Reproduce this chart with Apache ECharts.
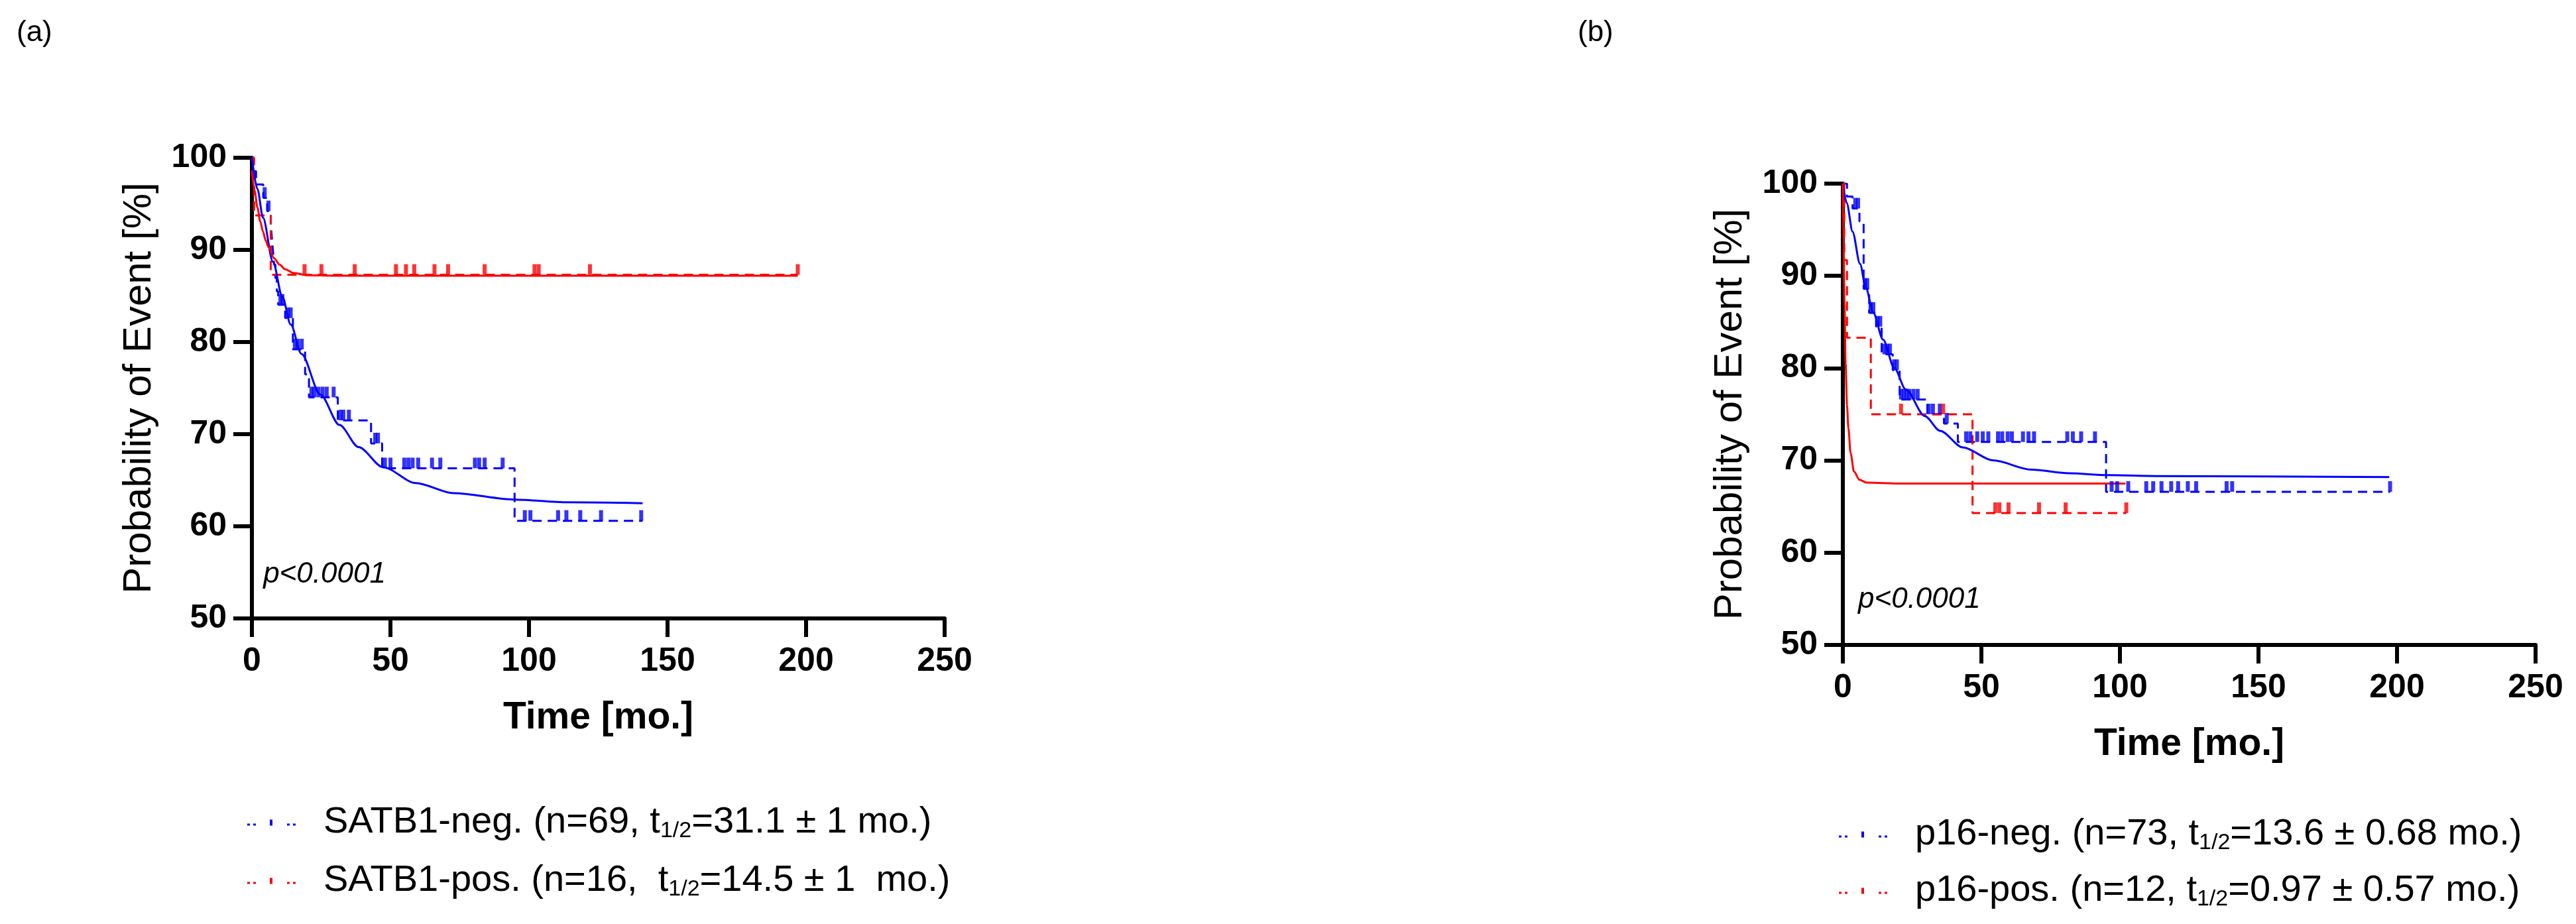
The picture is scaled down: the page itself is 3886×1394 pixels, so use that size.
<!DOCTYPE html>
<html>
<head>
<meta charset="utf-8">
<title>Kaplan-Meier SATB1 / p16</title>
<script src="https://cdn.jsdelivr.net/npm/echarts@6/dist/echarts.min.js"></script>
<style>
html, body { margin: 0; padding: 0; background: #fff; }
#main { width: 3886px; height: 1394px; }
</style>
</head>
<body>
<div id="main"></div>
<script>
// (a) SATB1 - Kaplan-Meier steps, censor marks and fitted curves
var satbNegKmX = [0, 0.5, 1.5, 4.1, 5.5, 6.8, 7.2, 7.6, 8.0, 8.5, 9.0, 9.5, 12.0, 14.8, 19.2, 20.6, 31.0, 43.0, 47.0, 94.8, 141];
var satbNegKmY = [100, 98.55, 97.1, 95.65, 94.2, 92.75, 91.3, 89.9, 88.4, 86.95, 85.5, 84.05, 82.6, 79.2, 76.5, 74.0, 71.5, 69.0, 66.3, 60.6, 60.6];
var satbNegCensX = [4.6, 6.0, 10.3, 11.0, 13.0, 14.0, 15.5, 16.5, 18.0, 21.5, 22.5, 24.0, 25.5, 27.0, 29.5, 32.0, 33.0, 35.0, 44.5, 45.5,
    48.0, 50.0, 55.0, 56.5, 58.0, 60.0, 65.0, 68.0, 80.5, 82.0, 84.0, 90.5, 98.5, 100.5, 110.5, 113.5, 118.5, 126.0, 140.5];
var satbNegCensY = [95.65, 94.2, 84.05, 84.05, 82.6, 82.6, 79.2, 79.2, 79.2, 74.0, 74.0, 74.0, 74.0, 74.0, 74.0, 71.5, 71.5, 71.5, 69.0, 69.0,
    66.3, 66.3, 66.3, 66.3, 66.3, 66.3, 66.3, 66.3, 66.3, 66.3, 66.3, 66.3, 60.6, 60.6, 60.6, 60.6, 60.6, 60.6, 60.6];
var satbNegFitX = [0, 2, 4, 7.6, 11, 14, 17.9, 24.7, 31.6, 38.5, 47.4, 59.1, 72.8, 94.8, 114, 141];
var satbNegFitY = [100, 96.6, 93.5, 88.7, 84.9, 81.9, 78.7, 74.3, 71.0, 68.6, 66.4, 64.7, 63.6, 62.9, 62.6, 62.5];

var satbPosKmX = [0, 0.8, 6.8, 197];
var satbPosKmY = [100, 93.75, 87.3, 87.3];
var satbPosCensX = [19.0, 25.1, 37.1, 52.0, 55.6, 58.6, 65.9, 70.8, 84.0, 102.0, 103.5, 122.0, 197.0];
var satbPosCensY = [87.3, 87.3, 87.3, 87.3, 87.3, 87.3, 87.3, 87.3, 87.3, 87.3, 87.3, 87.3, 87.3];
var satbPosFitX = [0, 1, 2, 3, 4, 5, 6, 8, 10, 12, 15, 20, 30, 197];
var satbPosFitY = [98.6, 96.4, 94.6, 93.1, 92.0, 91.0, 90.3, 89.1, 88.4, 87.9, 87.5, 87.25, 87.2, 87.2];

// (b) p16
var p16NegKmX = [0, 1.5, 3.5, 6.0, 7.5, 9.5, 12.0, 14.0, 18.0, 20.5, 30.5, 36.5, 41.5, 95.0, 197.5];
var p16NegKmY = [100, 98.6, 97.3, 95.9, 88.6, 86.0, 84.5, 81.5, 79.8, 76.6, 75.0, 74.0, 72.0, 66.6, 66.6];
var p16NegCensX = [4.5, 5.5, 8.0, 8.8, 10.0, 11.0, 12.5, 13.5, 15.0, 16.0, 17.0, 18.5, 19.5, 21.0, 22.0, 23.0, 24.0, 25.5, 27.0,
    31.0, 32.5, 35.0, 37.5, 44.5, 46.0, 48.5, 50.5, 52.5, 56.0, 57.5, 59.5, 61.0, 65.0, 67.0, 69.0, 81.0, 83.0, 86.0, 91.0,
    97.0, 99.0, 103.0, 109.5, 112.0, 115.0, 118.5, 121.0, 124.5, 127.5, 138.5, 140.5, 197.5];
var p16NegCensY = [97.3, 97.3, 88.6, 88.6, 86.0, 86.0, 84.5, 84.5, 81.5, 81.5, 81.5, 79.8, 79.8, 76.6, 76.6, 76.6, 76.6, 76.6, 76.6,
    75.0, 75.0, 75.0, 74.0, 72.0, 72.0, 72.0, 72.0, 72.0, 72.0, 72.0, 72.0, 72.0, 72.0, 72.0, 72.0, 72.0, 72.0, 72.0, 72.0,
    66.6, 66.6, 66.6, 66.6, 66.6, 66.6, 66.6, 66.6, 66.6, 66.6, 66.6, 66.6, 66.6];
var p16NegFitX = [0, 1.4, 3.5, 6.2, 8.3, 11, 14.5, 18.6, 22.7, 29.6, 35.1, 43.3, 54.3, 68, 81.7, 95.4, 114.8, 197.2];
var p16NegFitY = [100, 97.9, 94.8, 91.3, 88.7, 86.0, 83.1, 80.0, 77.7, 74.8, 73.2, 71.4, 70.0, 69.0, 68.6, 68.4, 68.3, 68.2];

var p16PosKmX = [0, 0.5, 1.5, 10.1, 46.8, 102.3];
var p16PosKmY = [100, 91.7, 83.3, 75.0, 64.3, 64.3];
var p16PosCensX = [21.0, 36.2, 55.0, 56.5, 59.8, 70.8, 80.4, 102.3];
var p16PosCensY = [75.0, 75.0, 64.3, 64.3, 64.3, 64.3, 64.3, 64.3];
var p16PosFitX = [0, 0.3, 0.6, 1.0, 1.5, 2.0, 2.8, 4.0, 6.0, 8.5, 20, 102];
var p16PosFitY = [100, 93, 87, 80.5, 76, 73.5, 70.8, 68.8, 67.9, 67.6, 67.5, 67.5];

// axis ticks
var xTicks = [0, 50, 100, 150, 200, 250];
var yTicks = [50, 60, 70, 80, 90, 100];

// legend names and texts (text before / after the "1/2" subscript)
var legendA = ['SATB1-neg.', 'SATB1-pos.'];
var legendB = ['p16-neg.', 'p16-pos.'];
var legendText = {
    'SATB1-neg.': ['SATB1-neg. (n=69, t', '=31.1 ± 1 mo.)'],
    'SATB1-pos.': ['SATB1-pos. (n=16,  t', '=14.5 ± 1  mo.)'],
    'p16-neg.': ['p16-neg. (n=73, t', '=13.6 ± 0.68 mo.)'],
    'p16-pos.': ['p16-pos. (n=12, t', '=0.97 ± 0.57 mo.)']
};

var BLUE = '#0000ff';
var RED = '#ff0000';
var FONT = "'Liberation Sans', Arial, Helvetica, sans-serif";

function pairs(xs, ys) {
    return xs.map(function (x, i) { return [x, ys[i]]; });
}

function kmSeries(name, xs, ys, color, g) {
    return {
        name: name, type: 'line', xAxisIndex: g, yAxisIndex: g,
        step: 'end', symbol: 'none', data: pairs(xs, ys),
        lineStyle: { color: color, width: 3, type: [14, 9] },
        itemStyle: { color: color }, z: 2
    };
}
function fitSeries(name, xs, ys, color, g) {
    return {
        name: name + ' fit', type: 'line', xAxisIndex: g, yAxisIndex: g,
        smooth: 0.3, smoothMonotone: 'x', symbol: 'none', data: pairs(xs, ys),
        lineStyle: { color: color, width: 3 }, itemStyle: { color: color }, z: 3
    };
}
function censSeries(name, xs, ys, color, g) {
    return {
        name: name + ' censored', type: 'scatter', xAxisIndex: g, yAxisIndex: g,
        symbol: 'rect', symbolSize: [6, 16], symbolOffset: [0, -8], data: pairs(xs, ys),
        itemStyle: { color: color }, z: 4
    };
}

function xAxisCfg(g) {
    return {
        gridIndex: g, type: 'value', min: xTicks[0], max: xTicks[xTicks.length - 1], interval: 50,
        name: 'Time [mo.]', nameLocation: 'middle', nameGap: 122,
        nameTextStyle: { fontSize: 57, fontWeight: 'bold', color: '#000', fontFamily: FONT },
        axisLine: { lineStyle: { color: '#000', width: 6 } },
        axisTick: { length: 28, lineStyle: { color: '#000', width: 6 } },
        axisLabel: { fontSize: 50, fontWeight: 'bold', color: '#000', fontFamily: FONT, margin: 40 },
        splitLine: { show: false }
    };
}
function yAxisCfg(g) {
    return {
        gridIndex: g, type: 'value', min: yTicks[0], max: yTicks[yTicks.length - 1], interval: 10,
        name: 'Probability of Event [%]', nameLocation: 'middle', nameGap: 140,
        nameTextStyle: { fontSize: 60, color: '#000', fontFamily: FONT },
        axisLine: { lineStyle: { color: '#000', width: 6 } },
        axisTick: { length: 28, lineStyle: { color: '#000', width: 6 } },
        axisLabel: { fontSize: 50, fontWeight: 'bold', color: '#000', fontFamily: FONT, margin: 38 },
        splitLine: { show: false }
    };
}

var legendRich = {
    sp: { width: 37 },
    t: { fontSize: 56, lineHeight: 60, color: '#000', fontFamily: FONT },
    s: { fontSize: 34, lineHeight: 34, verticalAlign: 'bottom', color: '#000', fontFamily: FONT }
};
var iconPath = 'path://M0,6h4v3h-4z M9,6h4v3h-4z M34,0h4v9h-4z M60,6h4v3h-4z M69,6h4v3h-4z';

function legendCfg(names, left, top, gap) {
    return {
        data: names, left: left, top: top, orient: 'vertical', itemGap: gap,
        itemWidth: 73, itemHeight: 9, icon: iconPath, selectedMode: false,
        formatter: function (name) {
            var t = legendText[name];
            return '{sp| }{t|' + t[0] + '}{s|1/2}{t|' + t[1] + '}';
        },
        textStyle: { rich: legendRich }
    };
}

var myChart = echarts.init(document.getElementById('main'));
var option = {
    backgroundColor: '#fff',
    animation: false,
    grid: [
        { left: 380, top: 238, width: 1045, height: 695 },
        { left: 2780, top: 277, width: 1045, height: 696 }
    ],
    xAxis: [xAxisCfg(0), xAxisCfg(1)],
    yAxis: [yAxisCfg(0), yAxisCfg(1)],
    legend: [
        legendCfg(legendA, 368, 1208, 30),
        legendCfg(legendB, 2769, 1226, 27)
    ],
    series: [
        kmSeries('SATB1-neg.', satbNegKmX, satbNegKmY, BLUE, 0),
        kmSeries('SATB1-pos.', satbPosKmX, satbPosKmY, RED, 0),
        fitSeries('SATB1-neg.', satbNegFitX, satbNegFitY, BLUE, 0),
        fitSeries('SATB1-pos.', satbPosFitX, satbPosFitY, RED, 0),
        censSeries('SATB1-neg.', satbNegCensX, satbNegCensY, BLUE, 0),
        censSeries('SATB1-pos.', satbPosCensX, satbPosCensY, RED, 0),
        kmSeries('p16-neg.', p16NegKmX, p16NegKmY, BLUE, 1),
        kmSeries('p16-pos.', p16PosKmX, p16PosKmY, RED, 1),
        fitSeries('p16-neg.', p16NegFitX, p16NegFitY, BLUE, 1),
        fitSeries('p16-pos.', p16PosFitX, p16PosFitY, RED, 1),
        censSeries('p16-neg.', p16NegCensX, p16NegCensY, BLUE, 1),
        censSeries('p16-pos.', p16PosCensX, p16PosCensY, RED, 1)
    ]
};
myChart.setOption(option);

// p-value text anchored in data coordinates, panel letters
var pA = myChart.convertToPixel({ gridIndex: 0 }, [4.1, 54.8]);
var pB = myChart.convertToPixel({ gridIndex: 1 }, [5.5, 54.9]);
myChart.setOption({
    graphic: [
        { type: 'text', left: 25, top: 28, style: { text: '(a)', fontSize: 44, fill: '#000', fontFamily: FONT } },
        { type: 'text', left: 2380, top: 28, style: { text: '(b)', fontSize: 44, fill: '#000', fontFamily: FONT } },
        { type: 'text', x: pA[0], y: pA[1], style: { text: 'p<0.0001', fontSize: 44, fontStyle: 'italic', fill: '#000', fontFamily: FONT, verticalAlign: 'middle' } },
        { type: 'text', x: pB[0], y: pB[1], style: { text: 'p<0.0001', fontSize: 44, fontStyle: 'italic', fill: '#000', fontFamily: FONT, verticalAlign: 'middle' } }
    ]
});
</script>
</body>
</html>
